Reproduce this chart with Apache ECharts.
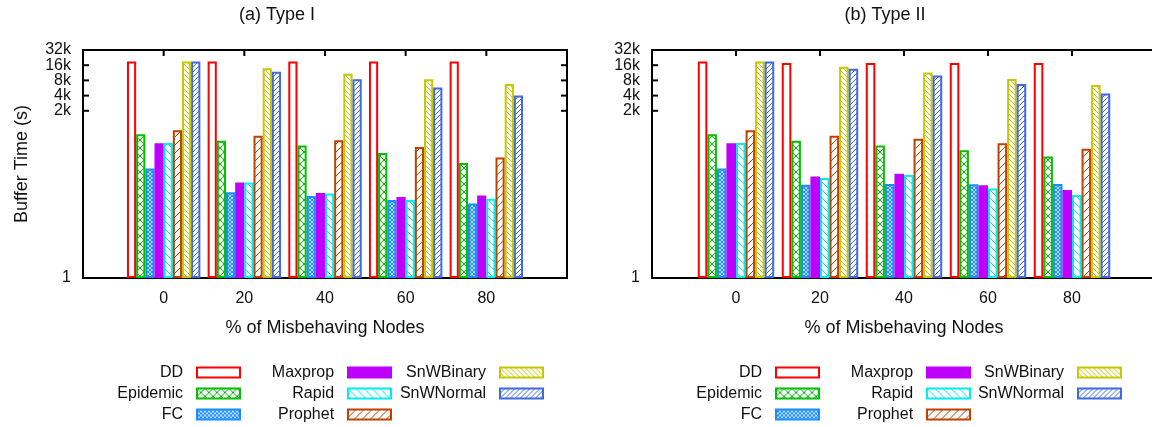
<!DOCTYPE html>
<html>
<head>
<meta charset="utf-8">
<script src="https://cdn.jsdelivr.net/npm/echarts@6.0.0/dist/echarts.min.js"></script>
<style>
  html, body { margin: 0; padding: 0; background: #fff; }
  #main { width: 1152px; height: 427px; }
</style>
</head>
<body>
<div id="main"></div>
<script>
var categories = ['0', '20', '40', '60', '80'];
var names = ['DD', 'Epidemic', 'FC', 'Maxprop', 'Rapid', 'Prophet', 'SnWBinary', 'SnWNormal'];
var yTickValues = [1, 2048, 4096, 8192, 16384, 32768];
var yTickLabels = ['1', '2k', '4k', '8k', '16k', '32k'];

// (a) Type I
var aDD        = [19300, 19300, 19300, 19300, 19300];
var aEpidemic  = [700, 525, 420, 300, 190];
var aFC        = [147, 50, 42, 35, 30];
var aMaxprop   = [465, 78, 48, 40, 43];
var aRapid     = [470, 78, 47, 35, 37];
var aProphet   = [845, 660, 535, 395, 243];
var aSnWBinary = [19300, 14200, 11150, 8600, 6950];
var aSnWNormal = [19300, 12200, 8600, 5900, 4100];

// (b) Type II
var bDD        = [19300, 18100, 18100, 18100, 18100];
var bEpidemic  = [700, 525, 420, 340, 254];
var bFC        = [147, 70, 73, 72, 73];
var bMaxprop   = [465, 102, 116, 69, 55];
var bRapid     = [470, 96, 109, 59, 44];
var bProphet   = [845, 655, 570, 467, 361];
var bSnWBinary = [19300, 15300, 11700, 8750, 6650];
var bSnWNormal = [19300, 14000, 10200, 6950, 4500];

var typeI  = [aDD, aEpidemic, aFC, aMaxprop, aRapid, aProphet, aSnWBinary, aSnWNormal];
var typeII = [bDD, bEpidemic, bFC, bMaxprop, bRapid, bProphet, bSnWBinary, bSnWNormal];

var colors = ['#ff0000', '#00c000', '#1a8cff', '#bf00ff', '#00eeee', '#c04000', '#c8c800', '#4169e1'];
var fillKinds = ['empty', 'cross', 'mesh', 'solid', 'back', 'fwd', 'backDense', 'fwdDense'];
var font = 'Liberation Sans, Arial, sans-serif';

// gnuplot-like fill patterns
function makeFill(kind, color) {
    if (kind === 'empty') return '#ffffff';
    if (kind === 'solid') return color;
    var s = kind === 'mesh' ? 4 : (kind === 'backDense' || kind === 'fwdDense') ? 5 : 8;
    var c = document.createElement('canvas');
    c.width = s; c.height = s;
    var g = c.getContext('2d');
    g.fillStyle = '#fff';
    g.fillRect(0, 0, s, s);
    g.strokeStyle = color;
    g.lineWidth = kind === 'mesh' ? 1.2 : 1;
    function fwd() {
        g.beginPath();
        g.moveTo(-1, s + 1); g.lineTo(s + 1, -1);
        g.moveTo(-1, 1); g.lineTo(1, -1);
        g.moveTo(s - 1, s + 1); g.lineTo(s + 1, s - 1);
        g.stroke();
    }
    function back() {
        g.beginPath();
        g.moveTo(-1, -1); g.lineTo(s + 1, s + 1);
        g.moveTo(s - 1, -1); g.lineTo(s + 1, 1);
        g.moveTo(-1, s - 1); g.lineTo(1, s + 1);
        g.stroke();
    }
    if (kind === 'cross' || kind === 'mesh') { fwd(); back(); }
    else if (kind === 'fwd' || kind === 'fwdDense') fwd();
    else back();
    return { image: c, repeat: 'repeat' };
}
var fills = fillKinds.map(function (k, i) { return makeFill(k, colors[i]); });

var topValue = yTickValues[yTickValues.length - 1];

function labelFor(v) {
    for (var i = 0; i < yTickValues.length; i++) {
        if (Math.abs(v - yTickValues[i]) < 0.5) return yTickLabels[i];
    }
    return '';
}
// main axis: every labelled value except the top one (it would collide with 16k)
function yLabelMain(v) { return Math.abs(v - topValue) < 0.5 ? '' : labelFor(v); }
// helper axis: only the top one
function yLabelTop(v) { return Math.abs(v - topValue) < 0.5 ? labelFor(v) : ''; }

var xData = [''].concat(categories, ['']);

function xAxes(grid) {
    return [{
        type: 'category', gridIndex: grid, data: xData, boundaryGap: false, position: 'bottom',
        axisLine: { onZero: false, lineStyle: { color: '#000', width: 2 } },
        axisTick: { show: false },
        axisLabel: { interval: 0, fontSize: 16, color: '#111', margin: 13 },
        name: '% of Misbehaving Nodes', nameLocation: 'middle', nameGap: 41,
        nameTextStyle: { fontSize: 18, color: '#111' }
    }, {
        type: 'category', gridIndex: grid, data: xData, boundaryGap: false, position: 'top',
        axisLine: { onZero: false, lineStyle: { color: '#000', width: 2 } },
        axisTick: { show: false },
        axisLabel: { show: false }
    }];
}

function logAxis(grid, position, labels) {
    return {
        type: 'log', logBase: 2, min: 1, max: 32768, interval: 1, gridIndex: grid, position: position,
        axisLine: { show: labels !== 'top', onZero: false, lineStyle: { color: '#000', width: 2 } },
        axisTick: { show: false },
        splitLine: { show: false },
        axisLabel: labels
            ? { formatter: labels === 'top' ? yLabelTop : yLabelMain, fontSize: 16, color: '#111', margin: 12,
                showMinLabel: true, showMaxLabel: true }
            : { show: false }
    };
}

function yAxes(grid, withName) {
    var left = logAxis(grid, 'left', 'main');
    if (withName) {
        left.name = 'Buffer Time (s)';
        left.nameLocation = 'middle';
        left.nameGap = 52;
        left.nameTextStyle = { fontSize: 18, color: '#111' };
    }
    return [left, logAxis(grid, 'right', null), logAxis(grid, 'left', 'top')];
}

// y axis indices: grid0 -> 0 (left), 1 (right), 2 (top label); grid1 -> 3, 4, 5
function panelSeries(values, xi, yi) {
    return names.map(function (n, k) {
        return {
            name: n, type: 'bar', xAxisIndex: xi, yAxisIndex: yi,
            barGap: '0%', barCategoryGap: '9%',
            itemStyle: { color: fills[k], borderColor: colors[k], borderWidth: 2 },
            emphasis: { disabled: true },
            data: ['-'].concat(values[k], ['-'])
        };
    });
}

function legendCol(data, right) {
    return {
        data: data, orient: 'vertical', align: 'right', right: right, top: 362,
        padding: 0, itemGap: 0, itemWidth: 43, itemHeight: 10, icon: 'rect',
        selectedMode: false,
        textStyle: { fontSize: 16, lineHeight: 21, color: '#111' },
        formatter: function (n) { return n + '\u00a0\u00a0'; }
    };
}

var myChart = echarts.init(document.getElementById('main'));

var option = {
    animation: false,
    backgroundColor: '#fff',
    textStyle: { fontFamily: font },
    title: [
        { text: '(a) Type I', left: 277, top: 6, textAlign: 'center', padding: 0,
          textStyle: { fontSize: 18, fontWeight: 'normal', color: '#111' } },
        { text: '(b) Type II', left: 885, top: 6, textAlign: 'center', padding: 0,
          textStyle: { fontSize: 18, fontWeight: 'normal', color: '#111' } }
    ],
    grid: [
        { left: 83, top: 50, right: 585, bottom: 149, outerBoundsMode: 'none' },
        { left: 652, top: 50, right: -4, bottom: 149, outerBoundsMode: 'none' }
    ],
    xAxis: xAxes(0).concat(xAxes(1)),
    yAxis: yAxes(0, true).concat(yAxes(1, false)),
    legend: [
        legendCol(['DD', 'Epidemic', 'FC'], 911),
        legendCol(['Maxprop', 'Rapid', 'Prophet'], 760),
        legendCol(['SnWBinary', 'SnWNormal'], 608),
        legendCol(['DD', 'Epidemic', 'FC'], 332),
        legendCol(['Maxprop', 'Rapid', 'Prophet'], 181),
        legendCol(['SnWBinary', 'SnWNormal'], 30)
    ],
    series: panelSeries(typeI, 0, 0).concat(panelSeries(typeII, 2, 3))
};

myChart.setOption(option);

// inside tick marks: y at labelled values (left + right border), x along the top border
var marks = [];
function tick(x1, y1, x2, y2) {
    marks.push({ type: 'line', z: 100, shape: { x1: x1, y1: y1, x2: x2, y2: y2 },
                 style: { stroke: '#000', lineWidth: 2 }, silent: true });
}
[[0, 0, true], [2, 3, false]].forEach(function (p) {
    var xl = myChart.convertToPixel({ xAxisIndex: p[0] }, 0);
    var xr = myChart.convertToPixel({ xAxisIndex: p[0] }, xData.length - 1);
    var yTop = myChart.convertToPixel({ yAxisIndex: p[1] }, topValue);
    yTickValues.slice(1, -1).forEach(function (v) {
        var y = myChart.convertToPixel({ yAxisIndex: p[1] }, v);
        tick(xl, y, xl + 6, y);
        if (p[2]) tick(xr, y, xr - 6, y);   // panel (b) right border is off the page
    });
    for (var i = 1; i <= categories.length; i++) {
        var x = myChart.convertToPixel({ xAxisIndex: p[0] }, i);
        tick(x, yTop, x, yTop + 6);
    }
});
myChart.setOption({ graphic: marks });

window.onresize = function () {
    myChart.resize();
};
</script>
</body>
</html>
